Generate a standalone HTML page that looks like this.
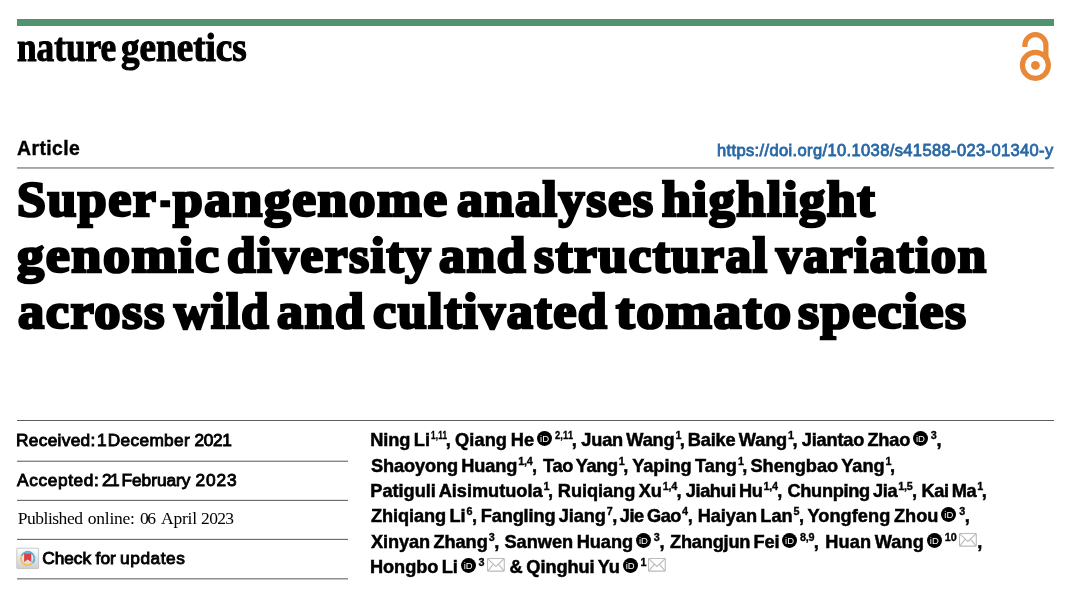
<!DOCTYPE html>
<html lang="en">
<head>
<meta charset="utf-8">
<title>Super-pangenome analyses highlight genomic diversity and structural variation across wild and cultivated tomato species</title>
<style>
html,body{margin:0;padding:0;background:#fff;}
body{width:1080px;height:606px;position:relative;overflow:hidden;color:#000;
  font-family:"Liberation Sans",sans-serif;}
.abs{position:absolute;white-space:nowrap;margin:0;padding:0;line-height:1;will-change:transform;}
.rule{position:absolute;height:1px;background:#858585;}
#bar{position:absolute;left:17px;top:19px;width:1037px;height:7px;background:#51926f;}
#logo{left:0;top:28.3px;width:400px;height:40px;font-family:"Liberation Serif",serif;font-weight:bold;font-size:40px;-webkit-text-stroke:1.1px #000;}
#logo span{position:absolute;top:0;transform-origin:0 0;}
#article{left:17.0px;top:139.1px;font-weight:bold;font-size:19.4px;letter-spacing:0.42px;-webkit-text-stroke:0.4px #000;}
#doi{left:717.2px;top:141.6px;font-size:16.5px;color:#2968a5;-webkit-text-stroke:0.8px #2968a5;letter-spacing:0.37px;}
.t{font-family:"Liberation Serif",serif;font-weight:bold;font-size:51px;left:0;width:1080px;height:51px;-webkit-text-stroke:2.7px #000;}
.t span{position:absolute;top:0;letter-spacing:1.5px;transform-origin:0 0;}
.meta{left:0;width:360px;height:18px;font-size:17.3px;-webkit-text-stroke:0.9px #000;}
.meta span{position:absolute;top:0;}
.ser{font-family:'Liberation Serif',serif;font-size:17.5px;-webkit-text-stroke:0;}
.au{left:0;width:1080px;height:18.2px;font-size:18.2px;font-weight:bold;word-spacing:-1.5px;-webkit-text-stroke:0.5px #000;}
.sg{position:absolute;top:0;white-space:nowrap;}
.au sup{font-size:10.8px;-webkit-text-stroke:0.35px #000;vertical-align:baseline;position:relative;top:-6.9px;line-height:0;letter-spacing:0.2px;margin:0 -0.6px 0 1px;}
.au sup.nar{display:inline-block;transform-origin:0 50%;}
.orc{-webkit-text-stroke:0;display:inline-block;overflow:hidden;width:14.8px;height:14.8px;border-radius:50%;background:#000;color:#fff;
  font-size:9.5px;font-weight:normal;line-height:16.8px;text-align:center;letter-spacing:0;margin:-2px 2px 0 2.9px;vertical-align:0;}
.env{display:inline-block;width:17.8px;height:13.6px;margin:0 0 0 2.9px;vertical-align:1.4px;}
</style>
</head>
<body>
<div id="bar"></div>
<div id="logo" class="abs"><span style="left:16.9px;transform:scaleX(0.881)">nature</span> <span style="left:120.8px;transform:scaleX(0.928)">genetics</span></div>

<svg id="lock" style="position:absolute;left:1015px;top:28px;" width="44" height="58" viewBox="1015 28 44 58">
<g fill="none" stroke="#e8893a">
<path d="M1024.9 47 V45.2 A10.5 10.5 0 0 1 1045.9 45.2 V57" stroke-width="5.2"/>
<circle cx="1035.4" cy="65.3" r="13" stroke-width="5.2"/>
</g>
<circle cx="1035.4" cy="65.3" r="4.4" fill="#e8893a"/>
</svg>

<div id="article" class="abs">Article</div>
<div id="doi" class="abs">https://doi.org/10.1038/s41588-023-01340-y</div>
<div class="rule" style="left:17px;top:167px;width:1037px;height:2px;background:linear-gradient(#a3a3a3 50%,#b1b1b1 50%);"></div>

<div id="t1" class="abs t" style="top:174.3px;"><span style="left:17.3px;transform:scaleX(1.018)">Super</span><span style="left:159.8px;transform:scaleX(0.612)">-</span><span style="left:172.7px;transform:scaleX(1.048)">pangenome</span> <span style="left:457.3px;transform:scaleX(1.021)">analyses</span> <span style="left:661.7px;transform:scaleX(1.025)">highlight</span></div>
<div id="t2" class="abs t" style="top:230.3px;"><span style="left:17.3px;transform:scaleX(1.061)">genomic</span> <span style="left:226.7px;transform:scaleX(1.010)">diversity</span> <span style="left:438.7px;transform:scaleX(1.015)">and</span> <span style="left:534.0px;transform:scaleX(1.006)">structural</span> <span style="left:776.0px;transform:scaleX(0.999)">variation</span></div>
<div id="t3" class="abs t" style="top:286.3px;"><span style="left:18.3px;transform:scaleX(1.026)">across</span> <span style="left:173.7px;transform:scaleX(0.966)">wild</span> <span style="left:277.3px;transform:scaleX(1.020)">and</span> <span style="left:373.3px;transform:scaleX(1.022)">cultivated</span> <span style="left:616.1px;transform:scaleX(1.091)">tomato</span> <span style="left:798.3px;transform:scaleX(1.055)">species</span></div>

<div class="rule" style="left:17px;top:420px;width:1037px;background:#5e5e5e;"></div>
<div class="rule" style="left:17px;top:460px;width:331px;height:2px;background:linear-gradient(#cccccc 50%,#888888 50%);"></div>
<div class="rule" style="left:17px;top:499px;width:331px;height:2px;background:linear-gradient(#e6e6e6 50%,#6e6e6e 50%);"></div>
<div class="rule" style="left:17px;top:538px;width:331px;height:2px;background:linear-gradient(#e6e6e6 50%,#6e6e6e 50%);"></div>
<div class="rule" style="left:17px;top:578px;width:331px;height:2px;background:linear-gradient(#909090 50%,#c4c4c4 50%);"></div>

<div id="m1" class="abs meta" style="top:431.7px;"><span style="left:16.0px;letter-spacing:0.31px">Received:</span> <span style="left:97.0px;letter-spacing:0.00px">1</span> <span style="left:107.8px;letter-spacing:0.31px">December</span> <span style="left:194.5px;letter-spacing:-0.40px">2021</span></div>
<div id="m2" class="abs meta" style="top:471.7px;"><span style="left:17.0px;letter-spacing:0.62px">Accepted:</span> <span style="left:102.0px;letter-spacing:-1.50px">21</span> <span style="left:121.5px;letter-spacing:-0.03px">February</span> <span style="left:195.5px;letter-spacing:0.93px">2023</span></div>
<div id="m3" class="abs meta ser" style="top:509.5px;"><span style="left:17.8px;letter-spacing:-0.49px">Published</span> <span style="left:87.8px;letter-spacing:-0.25px">online:</span> <span style="left:140.0px;letter-spacing:-1.40px">06</span> <span style="left:161.1px;letter-spacing:-0.23px">April</span> <span style="left:201.1px;letter-spacing:-0.70px">2023</span></div>
<svg id="cfu" style="position:absolute;left:16px;top:547px;" width="24" height="23" viewBox="16 547 24 23">
<defs><linearGradient id="cg" x1="0" y1="0" x2="0" y2="1"><stop offset="0" stop-color="#fdfdfd"/><stop offset="1" stop-color="#cecece"/></linearGradient></defs>
<rect x="16.8" y="548.2" width="21.8" height="20.4" rx="0.6" fill="url(#cg)" stroke="#bdbdbd" stroke-width="0.8"/>
<path d="M32.7 562.9 A6.7 6.7 0 0 1 21.5 555.9" fill="none" stroke="#f4c244" stroke-width="1.9"/>
<path d="M21.5 555.9 A6.7 6.7 0 1 1 32.7 562.9" fill="none" stroke="#56b4d6" stroke-width="1.9"/>
<path d="M24.1 553.3 H31.3 V561.9 L27.7 559.4 L24.1 561.9 Z" fill="#de4048"/>
</svg>
<div id="m4" class="abs meta" style="top:549.5px;"><span style="left:42.2px;letter-spacing:-0.03px">Check</span> <span style="left:95.6px;letter-spacing:0.05px">for</span> <span style="left:120.1px;letter-spacing:0.55px">updates</span></div>

<div id="a1" class="abs au" style="top:431.2px;"><span class="sg" style="left:370.3px"><span style="letter-spacing:-0.08px">Ning Li</span><sup class="nar" style="transform:scaleX(0.76);margin-right:-6.4px">1,11</sup>,</span> <span class="sg" style="left:455.0px"><span style="letter-spacing:0.11px">Qiang He</span><span class="orc">iD</span><sup class="nar" style="transform:scaleX(0.86);margin-right:-4.4px">2,11</sup>,</span> <span class="sg" style="left:581.3px"><span style="letter-spacing:-0.19px">Juan Wang</span><sup style="margin-right:-1.8px">1</sup>,</span> <span class="sg" style="left:687.8px"><span style="letter-spacing:-0.17px">Baike Wang</span><sup style="margin-right:-1.8px">1</sup>,</span> <span class="sg" style="left:801.8px"><span style="letter-spacing:-0.20px">Jiantao Zhao</span><span class="orc">iD</span><sup>3</sup>,</span></div>
<div id="a2" class="abs au" style="top:456.55px;"><span class="sg" style="left:371.0px"><span style="letter-spacing:-0.13px">Shaoyong Huang</span><sup style="letter-spacing:-0.25px">1,4</sup>,</span> <span class="sg" style="left:543.0px"><span style="letter-spacing:-0.36px">Tao Yang</span><sup style="margin-right:-1.8px">1</sup>,</span> <span class="sg" style="left:632.2px"><span style="letter-spacing:-0.05px">Yaping Tang</span><sup style="margin-right:-1.8px">1</sup>,</span> <span class="sg" style="left:750.5px"><span style="letter-spacing:-0.04px">Shengbao Yang</span><sup style="margin-right:-1.8px">1</sup>,</span></div>
<div id="a3" class="abs au" style="top:481.9px;"><span class="sg" style="left:370.3px"><span style="letter-spacing:-0.02px">Patiguli Aisimutuola</span><sup style="margin-right:-1.8px">1</sup>,</span> <span class="sg" style="left:557.8px"><span style="letter-spacing:-0.05px">Ruiqiang Xu</span><sup style="letter-spacing:-0.25px">1,4</sup>,</span> <span class="sg" style="left:685.8px"><span style="letter-spacing:-0.41px">Jiahui Hu</span><sup style="letter-spacing:-0.25px">1,4</sup>,</span> <span class="sg" style="left:787.5px"><span style="letter-spacing:-0.32px">Chunping Jia</span><sup style="letter-spacing:-0.25px">1,5</sup>,</span> <span class="sg" style="left:921.5px"><span style="letter-spacing:-0.40px">Kai Ma</span><sup style="margin-right:-1.8px">1</sup>,</span></div>
<div id="a4" class="abs au" style="top:507.25px;"><span class="sg" style="left:371.0px"><span style="letter-spacing:-0.10px">Zhiqiang Li</span><sup>6</sup>,</span> <span class="sg" style="left:480.7px"><span style="letter-spacing:-0.13px">Fangling Jiang</span><sup>7</sup>,</span> <span class="sg" style="left:619.8px"><span style="letter-spacing:-0.42px">Jie Gao</span><sup>4</sup>,</span> <span class="sg" style="left:697.8px"><span style="letter-spacing:-0.09px">Haiyan Lan</span><sup>5</sup>,</span> <span class="sg" style="left:807.5px"><span style="letter-spacing:0.04px">Yongfeng Zhou</span><span class="orc">iD</span><sup>3</sup>,</span></div>
<div id="a5" class="abs au" style="top:532.6px;"><span class="sg" style="left:371.0px"><span style="letter-spacing:-0.09px">Xinyan Zhang</span><sup>3</sup>,</span> <span class="sg" style="left:504.5px"><span style="letter-spacing:-0.02px">Sanwen Huang</span><span class="orc">iD</span><sup>3</sup>,</span> <span class="sg" style="left:670.0px"><span style="letter-spacing:-0.20px">Zhangjun Fei</span><span class="orc">iD</span><sup style="letter-spacing:-0.25px">8,9</sup>,</span> <span class="sg" style="left:825.3px"><span style="letter-spacing:0.09px">Huan Wang</span><span class="orc">iD</span><sup>10</sup><svg class="env" viewBox="0 0 17.8 13.6"><g fill="none" stroke="#b9bbbd" stroke-width="1.1"><rect x="0.5" y="0.5" width="16.8" height="12.6" rx="0.8"/><path d="M0.8 0.8 L8.9 8.4 L17 0.8 M0.8 12.8 L6.4 6.2 M17 12.8 L11.4 6.2"/></g></svg>,</span></div>
<div id="a6" class="abs au" style="top:557.95px;"><span class="sg" style="left:370.0px"><span style="letter-spacing:-0.06px">Hongbo Li</span><span class="orc">iD</span><sup>3</sup><svg class="env" viewBox="0 0 17.8 13.6"><g fill="none" stroke="#b9bbbd" stroke-width="1.1"><rect x="0.5" y="0.5" width="16.8" height="12.6" rx="0.8"/><path d="M0.8 0.8 L8.9 8.4 L17 0.8 M0.8 12.8 L6.4 6.2 M17 12.8 L11.4 6.2"/></g></svg></span> <span class="sg" style="left:509.5px"><span style="letter-spacing:0.00px">&amp;</span></span> <span class="sg" style="left:526.3px"><span style="letter-spacing:-0.06px">Qinghui Yu</span><span class="orc">iD</span><sup style="margin-right:-1.8px">1</sup><svg class="env" viewBox="0 0 17.8 13.6"><g fill="none" stroke="#b9bbbd" stroke-width="1.1"><rect x="0.5" y="0.5" width="16.8" height="12.6" rx="0.8"/><path d="M0.8 0.8 L8.9 8.4 L17 0.8 M0.8 12.8 L6.4 6.2 M17 12.8 L11.4 6.2"/></g></svg></span></div>

</body>
</html>
